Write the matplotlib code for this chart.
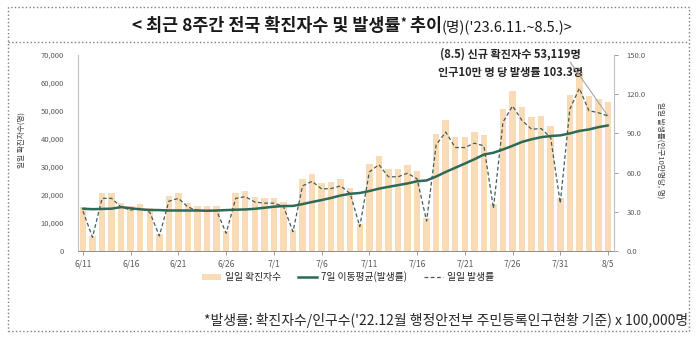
import matplotlib
matplotlib.use('Agg')
import matplotlib.pyplot as plt
from matplotlib.patches import Rectangle, Patch
from matplotlib.lines import Line2D
from matplotlib.ticker import FuncFormatter, FixedLocator
import numpy as np

plt.rcParams['font.family'] = ['Noto Sans CJK KR', 'DejaVu Sans']

# ---------------- data ----------------
dates = ['6/11', '6/12', '6/13', '6/14', '6/15', '6/16', '6/17', '6/18', '6/19', '6/20',
         '6/21', '6/22', '6/23', '6/24', '6/25', '6/26', '6/27', '6/28', '6/29', '6/30',
         '7/1', '7/2', '7/3', '7/4', '7/5', '7/6', '7/7', '7/8', '7/9', '7/10',
         '7/11', '7/12', '7/13', '7/14', '7/15', '7/16', '7/17', '7/18', '7/19', '7/20',
         '7/21', '7/22', '7/23', '7/24', '7/25', '7/26', '7/27', '7/28', '7/29', '7/30',
         '7/31', '8/1', '8/2', '8/3', '8/4', '8/5']

cases = [15700, 5400, 20700, 20700, 17300, 16100, 16800, 15200, 5900, 19600,
         20700, 17300, 16000, 16000, 15900, 7000, 20700, 21400, 19300, 18800,
         18800, 17600, 7600, 25600, 27400, 24400, 24600, 25600, 22500, 9600,
         31100, 34000, 29200, 29200, 30600, 28400, 11800, 41800, 46800, 40700,
         40700, 42400, 41400, 16800, 50700, 57100, 51300, 47900, 48200, 44600,
         18800, 55800, 64000, 55200, 54400, 53119]

rate = [30.5, 10.5, 40.3, 40.3, 33.6, 31.3, 32.7, 29.6, 11.5, 38.1,
        40.3, 33.6, 31.1, 31.1, 30.9, 13.6, 40.3, 41.6, 37.5, 36.6,
        36.6, 34.2, 14.8, 49.8, 53.3, 47.5, 47.8, 49.8, 43.8, 18.7,
        60.5, 66.1, 56.8, 56.8, 59.5, 55.2, 22.9, 81.3, 91.0, 79.2,
        79.2, 82.5, 80.5, 32.7, 98.6, 111.0, 99.8, 93.2, 93.7, 86.7,
        36.6, 108.5, 124.5, 107.4, 105.8, 103.3]

ma7 = [32.4, 32.0, 32.2, 32.4, 33.6, 32.7, 31.9, 31.4, 31.3, 31.0,
       31.0, 31.0, 31.0, 30.8, 31.0, 31.3, 31.6, 31.8, 32.3, 33.1,
       33.9, 34.4, 34.5, 35.9, 37.5, 39.0, 40.6, 42.5, 43.8, 44.4,
       45.9, 47.7, 49.1, 50.4, 51.7, 53.4, 54.0, 57.0, 60.5, 63.7,
       66.9, 70.2, 73.8, 75.2, 77.7, 80.5, 83.5, 85.5, 87.1, 88.0,
       88.5, 90.0, 91.9, 93.0, 94.8, 96.1]

left_ticks = [0, 10000, 20000, 30000, 40000, 50000, 60000, 70000]
right_ticks = [0, 30, 60, 90, 120, 150]

# ---------------- figure ----------------
W, H = 699, 346
fig = plt.figure(figsize=(W / 100, H / 100), dpi=100)
fig.patch.set_facecolor('white')

def fx(px):
    return px / W

def fy(py):
    return 1 - py / H

ax = fig.add_axes([fx(78), fy(251), fx(614 - 78), (251 - 55) / H])
x = np.arange(len(dates))

bar_color = '#F9DBB6'
ma_color = '#2E6A58'
dash_color = '#3F5E5A'
tick_color = '#595959'
spine_color = '#BFBFBF'

ax.bar(x, cases, width=0.68, color=bar_color, zorder=1)
ax.set_xlim(-0.52, 55.63)
ax.set_ylim(0, 70000)
ax.yaxis.set_major_locator(FixedLocator(left_ticks))
ax.yaxis.set_major_formatter(FuncFormatter(lambda v, p: f'{v:,.0f}'))
ax.set_xticks(x[::5])
ax.set_xticklabels(dates[::5])
ax.tick_params(axis='y', length=0, pad=10, labelsize=5.5, labelcolor=tick_color)
ax.tick_params(axis='x', length=3, width=0.6, color='#8c8c8c', pad=3,
               labelsize=6, labelcolor=tick_color)
for s in ['top', 'right']:
    ax.spines[s].set_visible(False)
ax.spines['left'].set_color(spine_color)
ax.spines['left'].set_linewidth(0.8)
ax.spines['bottom'].set_color('#8c8c8c')
ax.spines['bottom'].set_linewidth(0.7)

ax2 = ax.twinx()
ax2.set_ylim(0, 150)
ax2.yaxis.set_major_locator(FixedLocator(right_ticks))
ax2.yaxis.set_major_formatter(FuncFormatter(lambda v, p: f'{v:.1f}'))
ax2.tick_params(axis='y', length=3, width=0.6, color='#8c8c8c', pad=6,
                labelsize=5.5, labelcolor=tick_color)
for s in ['top', 'left', 'bottom']:
    ax2.spines[s].set_visible(False)
ax2.spines['right'].set_color(spine_color)
ax2.spines['right'].set_linewidth(0.8)

ax2.plot(x, ma7, color=ma_color, lw=1.8, zorder=3, solid_capstyle='round')
ax2.plot(x, rate, color=dash_color, lw=0.9, ls=(0, (3, 2)), zorder=4)

# annotation
ax.text(0.806, 0.957, '(8.5) 신규 확진자수 53,119명\n인구10만 명 당 발생률 103.3명',
        transform=ax.transAxes, ha='center', va='center', fontsize=8,
        fontweight='bold', color='#262626', linespacing=1.55)
ax2.annotate('', xy=(x[-1], rate[-1]), xycoords='data',
             xytext=(0.918, 0.965), textcoords='axes fraction',
             arrowprops=dict(arrowstyle='-', color='#A6A6A6', lw=0.8,
                             shrinkA=0, shrinkB=0))

# axis labels
fig.text(fx(22), fy(140), '일일 확진자수(명)', rotation=90, ha='center', va='center',
         fontsize=5.5, color='#404040')
fig.text(fx(660), fy(150), '일일 발생률(인구10만명당, 명)', rotation=-90, ha='center',
         va='center', fontsize=5.5, color='#404040')

# legend
handles = [Patch(facecolor=bar_color, edgecolor='none'),
           Line2D([], [], color=ma_color, lw=1.8),
           Line2D([], [], color=dash_color, lw=0.9, ls=(0, (3, 2)))]
labels = ['일일 확진자수', '7일 이동평균(발생률)', '일일 발생률']
fig.legend(handles, labels, loc='center', bbox_to_anchor=(fx(348), fy(277)),
           ncol=3, frameon=False, fontsize=7, handlelength=2.0, handleheight=0.6,
           columnspacing=1.7, handletextpad=0.4, labelcolor='#262626')

# footnote
fig.text(fx(688), fy(320),
         "*발생률: 확진자수/인구수('22.12월 행정안전부 주민등록인구현황 기준) x 100,000명",
         ha='right', va='center', fontsize=10, color='#262626')

# border & divider
fig.add_artist(Rectangle((fx(8), fy(331)), fx(689 - 8), (331 - 7) / H,
                         transform=fig.transFigure, fill=False, ls=':', lw=1.0,
                         ec='#7f7f7f'))
fig.add_artist(Line2D([fx(8), fx(689)], [fy(42), fy(42)], transform=fig.transFigure,
                      ls=':', lw=1.0, color='#7f7f7f'))

# title in pieces
parts = [("< 최근 8주간 전국 확진자수 및 발생률", dict(fontsize=12.5, fontweight='bold'), 0),
         ("*", dict(fontsize=8, fontweight='bold'), 5),
         (" 추이", dict(fontsize=12.5, fontweight='bold'), 0),
         ("(명)('23.6.11.~8.5.)>", dict(fontsize=10.5, fontweight='normal'), 0)]
renderer = fig.canvas.get_renderer()
texts = []
widths = []
base_y = 31
for s, kw, dy in parts:
    t = fig.text(0, fy(base_y) + dy / H, s, ha='left', va='baseline',
                 color='#1a1a1a', **kw)
    texts.append(t)
    widths.append(t.get_window_extent(renderer).width)
total = sum(widths)
cur = 352 - total / 2
for t, w in zip(texts, widths):
    t.set_x(fx(cur))
    cur += w

fig.savefig('out.png', dpi=100, facecolor='white')
